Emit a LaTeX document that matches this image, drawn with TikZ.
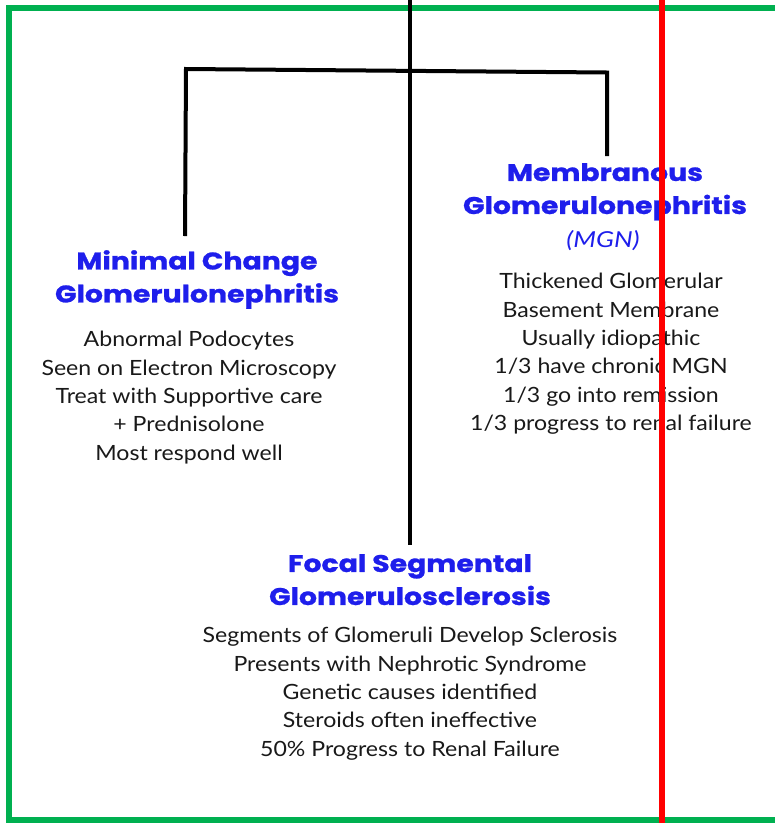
\documentclass[tikz,border=0pt]{standalone}
\usepackage{fontspec}
\setmainfont{Lato}
\newfontfamily\bodyfont{Lato}[FakeStretch=1.1]
\newfontfamily\titlefont{Poppins}[FakeBold=1,FakeStretch=1.18]
\newfontfamily\abbrfont{Lato}[FakeStretch=1.2]
\definecolor{titleblue}{RGB}{30,30,235}
\definecolor{framegreen}{RGB}{0,176,80}
\definecolor{redline}{RGB}{255,0,0}
\begin{document}
\begin{tikzpicture}[x=1pt,y=-1pt,
  ttl/.style={font=\titlefont\fontsize{24}{33}\selectfont\bfseries, text=titleblue, align=center, inner sep=0pt, anchor=north},
  abbr/.style={font=\abbrfont\fontsize{22}{28}\selectfont\itshape, text=titleblue, align=center, inner sep=0pt, anchor=north},
  body/.style={font=\bodyfont\fontsize{21}{28.4}\selectfont, text=black!90, align=center, inner sep=0pt, anchor=north},
  conn/.style={line width=4pt, black}]
\useasboundingbox (0,0) rectangle (775,823);
\begin{scope}
\clip (0,0) rectangle (775,823);
\draw[framegreen, line width=6pt] (9,8) rectangle (800,820);
\end{scope}
% nodes
\node[ttl] (mgntitle) at (605,163) {Membranous\\Glomerulonephritis};
\node[abbr] (mgnabbr) at (603,230) {(MGN)};
\node[body] (mgnbody) at (611,273) {Thickened Glomerular\\Basement Membrane\\Usually idiopathic\\1/3 have chronic MGN\\1/3 go into remission\\1/3 progress to renal failure};
\node[ttl] (mctitle) at (197,250) {Minimal Change\\Glomerulonephritis};
\node[body] (mcbody) at (189,331) {Abnormal Podocytes\\Seen on Electron Microscopy\\Treat with Supportive care\\+ Prednisolone\\Most respond well};
\node[ttl] (fstitle) at (410,554) {Focal Segmental\\Glomerulosclerosis};
\node[body] (fsbody) at (410,627) {Segments of Glomeruli Develop Sclerosis\\Presents with Nephrotic Syndrome\\Genetic causes identified\\Steroids often ineffective\\50\% Progress to Renal Failure};
% connectors
\coordinate (top) at (410,-2);
\coordinate (bl) at (186,69);
\coordinate (br) at (607,72.5);
\coordinate (fsend) at (410,545);
\coordinate (mcend) at (185,236);
\coordinate (mgnend) at (607,156);
\draw[conn] (top) -- (fsend);
\draw[conn] (mcend) -- (bl) -- (br) -- (mgnend);
% red marker line
\draw[redline, line width=6pt] (662,0) -- (662,823);
\end{tikzpicture}
\end{document}
